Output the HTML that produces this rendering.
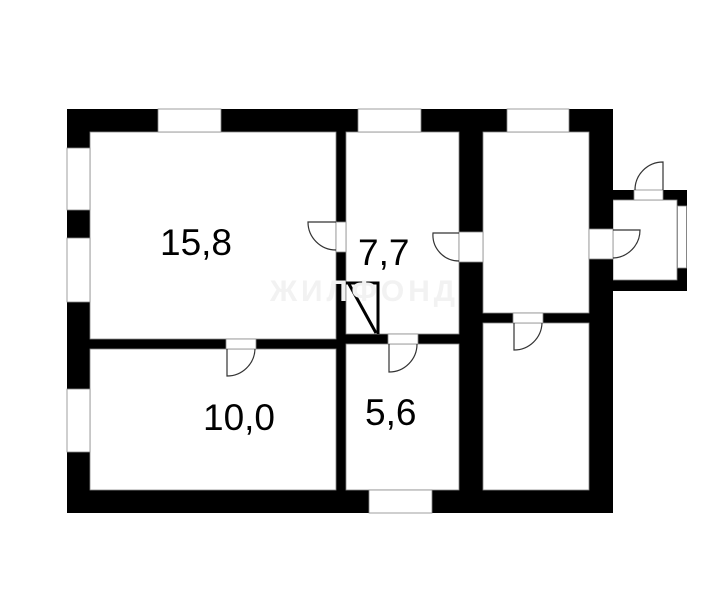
<!DOCTYPE html>
<html><head><meta charset="utf-8"><style>html,body{margin:0;padding:0;background:#fff}svg{display:block}</style></head>
<body>
<svg width="725" height="614" viewBox="0 0 725 614" xmlns="http://www.w3.org/2000/svg">
<rect x="0" y="0" width="725" height="614" fill="#fff"/>
<!-- annex -->
<rect x="600" y="190" width="87" height="101" fill="#000"/>
<rect x="613" y="200" width="64" height="80" fill="#fff" stroke="#888" stroke-width="0.8"/>
<rect x="677.5" y="206" width="9" height="62" fill="#fff" stroke="#888" stroke-width="0.8"/>
<!-- main walls -->
<rect x="67" y="109" width="546" height="404" fill="#000"/>
<g fill="#fff" stroke="#888" stroke-width="0.8">
<rect x="90" y="132" width="246" height="207"/>
<rect x="90" y="349" width="246" height="141"/>
<rect x="346" y="132" width="113" height="202"/>
<rect x="346" y="344" width="113" height="146"/>
<rect x="483" y="132" width="106" height="181"/>
<rect x="483" y="323" width="106" height="167"/>
<!-- windows top -->
<rect x="158" y="109" width="63" height="23"/>
<rect x="358" y="109" width="63" height="23"/>
<rect x="507" y="109" width="62" height="23"/>
<!-- windows left -->
<rect x="67" y="148" width="23" height="62"/>
<rect x="67" y="238" width="23" height="64"/>
<rect x="67" y="389" width="23" height="63"/>
<!-- bottom window -->
<rect x="369" y="490" width="63" height="23"/>
<!-- door openings -->
<rect x="336" y="222" width="10" height="30"/>
<rect x="459" y="232" width="24" height="30"/>
<rect x="589" y="229" width="24" height="30"/>
<rect x="634" y="190" width="29" height="10"/>
<rect x="226" y="339" width="30" height="10"/>
<rect x="388" y="334" width="30" height="10"/>
<rect x="513" y="313" width="30" height="10"/>
</g>
<!-- door leaves -->
<g fill="none" stroke="#333" stroke-width="1.2">
<path d="M336 222 H308 A28 28 0 0 0 336 250"/>
<path d="M459 233 H433 A26 26 0 0 0 459 261"/>
<path d="M613 230 H640 A28 28 0 0 1 613 258"/>
<path d="M663 190 V162 A28 28 0 0 0 635 190"/>
<path d="M227 349 V376 A28 28 0 0 0 255 349"/>
<path d="M389 344 V372 A28 28 0 0 0 417 344"/>
<path d="M514 323 V350 A28 28 0 0 0 542 323"/>
</g>
<!-- closet -->
<g fill="none" stroke="#000" stroke-width="3">
<path d="M346 283 H378 V334"/>
<path d="M349 284 L376 333"/>
</g>
<!-- watermark -->
<text x="270" y="301" font-family="Liberation Sans, sans-serif" font-size="30" font-weight="bold" fill="#f2f2f2" textLength="185">ЖИЛФОНД</text>
<!-- labels -->
<g font-family="Liberation Sans, sans-serif" font-size="37" fill="#000">
<text x="160" y="255">15,8</text>
<text x="358" y="265">7,7</text>
<text x="203" y="430">10,0</text>
<text x="365" y="425">5,6</text>
</g>
</svg>
</body></html>
